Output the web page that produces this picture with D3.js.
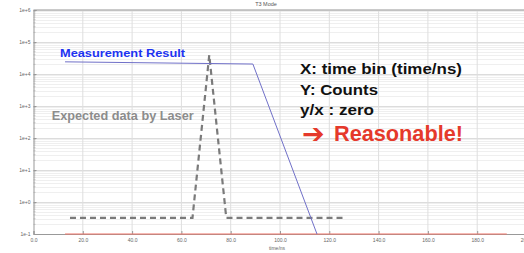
<!DOCTYPE html>
<html><head><meta charset="utf-8">
<script src="https://cdn.jsdelivr.net/npm/d3@7"></script>
<style>body{margin:0;background:#fff;}svg{display:block;}</style>
</head><body>
<script>
// ---- data ----
const title = "T3 Mode";
const xLabel = "time/ns";
const xTicks = [0, 20, 40, 60, 80, 100, 120, 140, 160, 180, 200];
const yTicks = [1e-1, 1e0, 1e1, 1e2, 1e3, 1e4, 1e5, 1e6];
const yTickLabels = ["1e-1", "1e+0", "1e+1", "1e+2", "1e+3", "1e+4", "1e+5", "1e+6"];
// measured curve (time ns, counts)
const measX = [12.8, 89, 115];
const measY = [2.4e4, 2.05e4, 0.1];
// expected laser pulse (dashed)
const expX = [14.8, 64.5, 71.3, 78.2, 126.4];
const expY = [0.32, 0.32, 3.9e4, 0.32, 0.32];
// zero line (red)
const zeroX = [12.8, 192];
const zeroY = [0.1, 0.1];
const notes = ["X: time bin (time/ns)", "Y: Counts", "y/x : zero"];
const verdictArrow = "➔";
const verdictText = "Reasonable!";
const measLabel = "Measurement Result";
const expLabel = "Expected data by Laser";

const W = 524, H = 253;
const svg = d3.select("body").append("svg").attr("width", W).attr("height", H);
const x = d3.scaleLinear().domain([0, 200]).range([33.5, 526.5]);
const y = d3.scaleLog().domain([0.1, 1e6]).range([234, 10]);

// minor horizontal grid
const minor = [];
for (let e = -1; e < 6; e++) for (let m = 2; m <= 9; m++) minor.push(m * Math.pow(10, e));
svg.append("g").selectAll("line").data(minor).join("line")
  .attr("x1", x(0)).attr("x2", W).attr("y1", d => Math.round(y(d)) + 0.5).attr("y2", d => Math.round(y(d)) + 0.5)
  .attr("stroke", "#efefef").attr("stroke-width", 1);
// major horizontal grid
svg.append("g").selectAll("line").data(yTicks).join("line")
  .attr("x1", x(0)).attr("x2", W).attr("y1", d => Math.round(y(d)) + 0.5).attr("y2", d => Math.round(y(d)) + 0.5)
  .attr("stroke", "#dcdcdc").attr("stroke-width", 1);
// vertical grid
svg.append("g").selectAll("line").data(xTicks.slice(1)).join("line")
  .attr("x1", d => x(d)).attr("x2", d => x(d)).attr("y1", y(1e6)).attr("y2", y(0.1))
  .attr("stroke", "#dedede").attr("stroke-width", 1);

// top border
svg.append("line").attr("x1", x(0)).attr("x2", W).attr("y1", y(1e6)).attr("y2", y(1e6))
  .attr("stroke", "#b8b8b8").attr("stroke-width", 1.5);

// axes
const xAxis = d3.axisBottom(x).tickValues(xTicks).tickFormat(d3.format(".1f")).tickSize(-3).tickPadding(4);
const gx = svg.append("g").attr("transform", `translate(0,${y(0.1)})`).call(xAxis);
gx.select(".domain").attr("stroke", "#999");
gx.selectAll(".tick line").attr("stroke", "#999");
gx.selectAll("text").attr("fill", "#666").style("font", "5px 'Liberation Sans', Arial, sans-serif");

const yAxis = d3.axisLeft(y).tickValues(yTicks).tickFormat((d, i) => yTickLabels[i]).tickSize(-3).tickPadding(3);
const gy = svg.append("g").attr("transform", `translate(${x(0)},0)`).call(yAxis);
gy.select(".domain").attr("stroke", "#999");
gy.selectAll(".tick line").attr("stroke", "#999");
gy.selectAll("text").attr("fill", "#666").style("font", "5px 'Liberation Sans', Arial, sans-serif");
// minor ticks on y axis
gy.append("g").selectAll("line").data(minor).join("line")
  .attr("x1", 0).attr("x2", 2).attr("y1", d => y(d)).attr("y2", d => y(d)).attr("stroke", "#aaa").attr("stroke-width", 0.6);

// title & x label
svg.append("text").attr("x", 266).attr("y", 6).attr("text-anchor", "middle")
  .attr("fill", "#555").style("font", "5.5px 'Liberation Sans', Arial, sans-serif").text(title);
svg.append("text").attr("x", 277).attr("y", 250).attr("text-anchor", "middle")
  .attr("fill", "#666").style("font", "5px 'Liberation Sans', Arial, sans-serif").text(xLabel);

const line = d3.line().x(d => x(d[0])).y(d => y(d[1]));

// zero line
svg.append("path").datum(d3.zip(zeroX, zeroY)).attr("d", line)
  .attr("fill", "none").attr("stroke", "#f07568").attr("stroke-width", 1.2);
// expected dashed
svg.append("path").datum(d3.zip(expX, expY)).attr("d", line)
  .attr("fill", "none").attr("stroke", "#7a7a7a").attr("stroke-width", 2.2)
  .attr("stroke-dasharray", "6,4").attr("stroke-linejoin", "miter");
// measurement
svg.append("path").datum(d3.zip(measX, measY)).attr("d", line)
  .attr("fill", "none").attr("stroke", "#7070c8").attr("stroke-width", 1);

const F = "'Liberation Sans', Arial, Helvetica, sans-serif";
svg.append("text").attr("x", 60).attr("y", 57).attr("fill", "#1d33f2")
  .attr("textLength", 125).attr("lengthAdjust", "spacingAndGlyphs")
  .style("font", `bold 11.8px ${F}`).text(measLabel);
svg.append("text").attr("x", 51.7).attr("y", 120).attr("fill", "#8c8c8c")
  .attr("textLength", 142).attr("lengthAdjust", "spacingAndGlyphs")
  .style("font", `bold 12.6px ${F}`).text(expLabel);

const noteW = [162, 78, 74];
const noteY = [74, 94.5, 115];
svg.append("g").selectAll("text").data(notes).join("text")
  .attr("x", 300).attr("y", (d, i) => noteY[i]).attr("fill", "#111")
  .attr("textLength", (d, i) => noteW[i]).attr("lengthAdjust", "spacingAndGlyphs")
  .style("font", `bold 15px ${F}`).text(d => d);

const vt = svg.append("text").attr("x", 302).attr("y", 141).attr("fill", "#e5392b")
  .style("font", `bold 21.5px ${F}`);
vt.append("tspan").style("font", "bold 27px 'DejaVu Sans', sans-serif").attr("dy", 1.5).text(verdictArrow);
vt.append("tspan").attr("x", 334).attr("dy", -1.5).attr("textLength", 129).attr("lengthAdjust", "spacingAndGlyphs").text(verdictText);
</script>
</body></html>
